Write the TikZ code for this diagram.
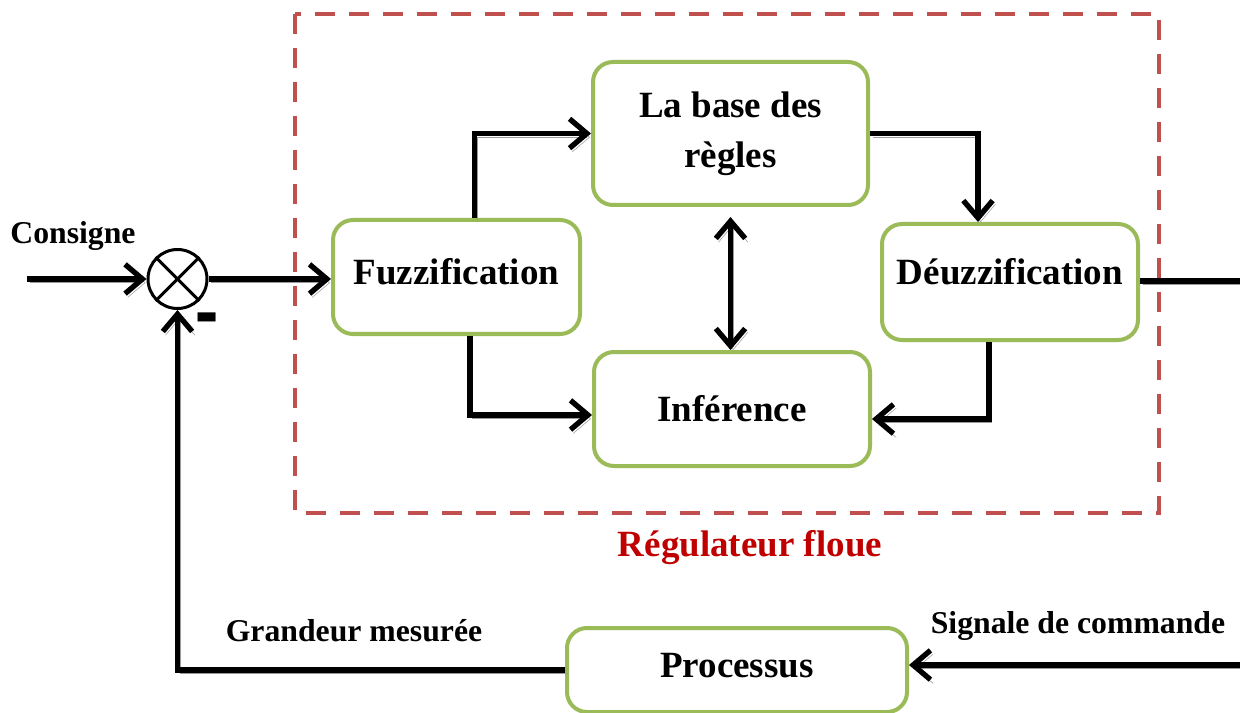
\documentclass[tikz,border=0pt]{standalone}
\usepackage{fontspec}
\setmainfont{Liberation Serif}
\usetikzlibrary{arrows.meta}
\definecolor{boxgreen}{HTML}{9BBB59}
\definecolor{framered}{HTML}{C0504D}
\definecolor{titlered}{HTML}{C00000}
\definecolor{shadowgray}{HTML}{9A9A9A}

\begin{document}
\begin{tikzpicture}[x=0.75pt,y=-0.75pt,
  blk/.style={draw=boxgreen, line width=3pt, rounded corners=15pt, fill=white,
    align=center, inner sep=0pt, font=\bfseries\fontsize{27.75}{37.5}\selectfont},
  lbl/.style={font=\bfseries\fontsize{23.8}{28}\selectfont, inner sep=0pt},
  wire/.style={line width=4pt,
    preaction={draw=shadowgray, transform canvas={shift={(2pt,-2.8pt)}}}},
  tip/.tip={Straight Barb[length=13pt,width=22pt]},
  conn/.style={wire, -tip},
  dconn/.style={wire, tip-tip},
]
\useasboundingbox (0,0) rectangle (1240,713);
\clip (0,0) rectangle (1240,713);

% fuzzy controller frame
\draw[framered, line width=3pt, dash pattern=on 15pt off 10.5pt] (295,14) rectangle (1159,513);
\node[font=\bfseries\fontsize{27.75}{30}\selectfont, text=titlered] (title) at (750,548) {Régulateur floue};

% blocks
\node[blk, minimum width=185.25pt, minimum height=85.5pt, text depth=9pt] (fuz) at (456.5,277) {Fuzzification};
\node[blk, minimum width=206.25pt, minimum height=107.25pt] (base) at (730.5,133.5) {La base des\\règles};
\node[blk, minimum width=192pt, minimum height=87pt, text depth=16pt] (deff) at (1010,282) {Déuzzification};
\node[blk, minimum width=207pt, minimum height=85.5pt] (inf) at (732,409) {Inférence};
\node[blk, minimum width=255pt, minimum height=63pt, text depth=7pt] (proc) at (737,670) {Processus};

% summing junction
\node[circle, draw, line width=2.25pt, minimum size=44.25pt, inner sep=0pt] (sum) at (177.5,279) {};
\draw[line width=2.25pt] (sum.north west) -- (sum.south east);
\draw[line width=2.25pt] (sum.north east) -- (sum.south west);
\node[font=\bfseries\fontsize{40}{40}\selectfont, inner sep=0pt] (minus) at (207,328) {\scalebox{1.3}[2]{-}};

% labels
\node[lbl] (consigne) at (73,236) {Consigne};
\node[lbl] (mesure) at (354,631) {Grandeur mesurée};
\node[lbl] (commande) at (1078,626) {Signale de commande};

% free ends at the page border
\coordinate (cin) at (27,279);
\coordinate (uout) at (1240,281);
\coordinate (sigin) at (1240,665);

% connectors
\draw[conn] (cin) -- (sum.west);
\draw[conn] (sum.east) -- (fuz.west |- sum.east);
\draw[conn] ([xshift=13.5pt]fuz.north) |- (base.west);
\draw[conn] ([xshift=10pt]fuz.south) |- ([yshift=-4.5pt]inf.west);
\draw[conn] (base.east) -| ([xshift=-24pt]deff.north);
\draw[conn] ([xshift=-15.75pt]deff.south) |- ([yshift=-7.5pt]inf.east);
\draw[dconn, shorten <=7.5pt] (base.south) -- (base.south |- inf.north);
\draw[wire] (deff.east |- uout) -- (uout);
\draw[conn] (sigin) -- (sigin -| proc.east);
\draw[conn] (proc.west) -| (sum.south);
\end{tikzpicture}
\end{document}
